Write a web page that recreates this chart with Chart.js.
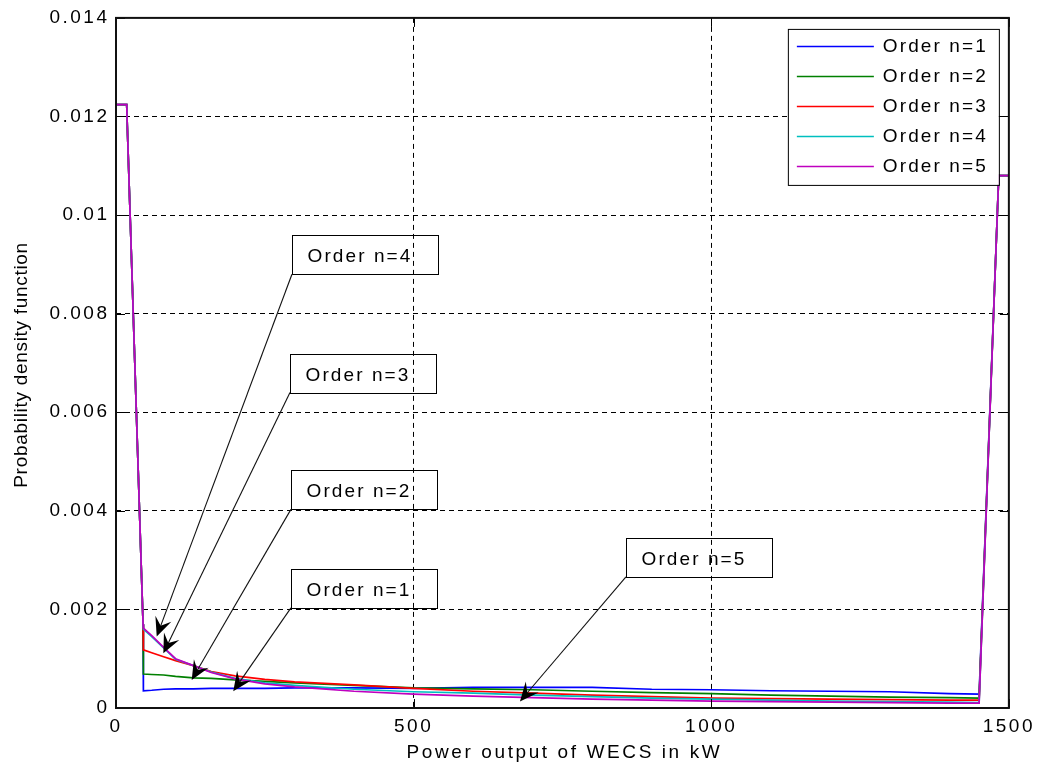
<!DOCTYPE html>
<html>
<head>
<meta charset="utf-8">
<script src="https://cdn.jsdelivr.net/npm/chart.js@4/dist/chart.umd.min.js"></script>
<style>
  html, body { margin: 0; padding: 0; background: #ffffff; }
  #wrap { width: 1037px; height: 767px; }
</style>
</head>
<body>
<div id="wrap"><canvas id="c" width="1037" height="767"></canvas></div>
<script>
// ---------------- data ----------------
const powerKW = [0, 18, 19, 45.5, 46, 60, 80, 100, 130, 160, 200, 250, 300, 400, 500, 600, 700, 800, 900, 1000, 1100, 1200, 1300, 1400, 1450, 1483, 1500];

const pdfOrder1 = [0.01224, 0.01224, 0.0118, 0.0017,
  0.00035, 0.00036, 0.00038, 0.00039, 0.00039, 0.0004, 0.0004, 0.0004, 0.00041, 0.00041, 0.0004,
  0.00042, 0.00042, 0.00042, 0.00038, 0.00037, 0.00035, 0.00034, 0.00033, 0.00029, 0.00028,
  0.0108, 0.0108];
const pdfOrder2 = [0.01224, 0.01224, 0.0118, 0.0017,
  0.00069, 0.00068, 0.00067, 0.00064, 0.00061, 0.0006, 0.00057, 0.00054, 0.00051, 0.00046, 0.00041,
  0.00039, 0.00037, 0.00034, 0.00031, 0.00029, 0.00026, 0.00024, 0.00022, 0.00021, 0.0002,
  0.0108, 0.0108];
const pdfOrder3 = [0.01224, 0.01224, 0.0118, 0.0017,
  0.00118, 0.00112, 0.00104, 0.00096, 0.00086, 0.00074, 0.00065, 0.00058, 0.00053, 0.00047, 0.0004,
  0.00034, 0.0003, 0.00026, 0.00023, 0.0002, 0.00019, 0.00018, 0.00017, 0.00016, 0.00016,
  0.0108, 0.0108];
const pdfOrder4 = [0.01224, 0.01224, 0.0118, 0.0017,
  0.0016, 0.00145, 0.00122, 0.00099, 0.00086, 0.00073, 0.0006, 0.00051, 0.00046, 0.00038, 0.00033,
  0.0003, 0.00026, 0.00023, 0.0002, 0.00018, 0.00016, 0.00014, 0.00013, 0.00012, 0.00011,
  0.0108, 0.0108];
const pdfOrder5 = [0.01224, 0.01224, 0.0118, 0.0017,
  0.00162, 0.00147, 0.00123, 0.001, 0.00086, 0.00072, 0.00059, 0.00049, 0.00043, 0.00034, 0.00028,
  0.00024, 0.00021, 0.00018, 0.00016, 0.00014, 0.00013, 0.00012, 0.00011, 0.0001, 0.0001,
  0.0108, 0.0108];

const seriesLabels = ['Order n=1', 'Order n=2', 'Order n=3', 'Order n=4', 'Order n=5'];
const seriesValues = [pdfOrder1, pdfOrder2, pdfOrder3, pdfOrder4, pdfOrder5];

const xTickValues = [0, 500, 1000, 1500];
const yTickValues = [0, 0.002, 0.004, 0.006, 0.008, 0.01, 0.012, 0.014];

const xAxisTitle = 'Power output of WECS in kW';
const yAxisTitle = 'Probability density function';

// text-arrow annotations: label, arrow tail (box lower-left corner) and arrow head, in data units
const noteLabels = ['Order n=4', 'Order n=3', 'Order n=2', 'Order n=1', 'Order n=5'];
const noteTailKW = [295.6, 292.3, 293.9, 293.9, 856.7];
const noteTailPdf = [0.0088, 0.0064, 0.00403, 0.00203, 0.00266];
const noteHeadKW = [68.4, 79.5, 127.2, 197, 678.6];
const noteHeadPdf = [0.00145, 0.00111, 0.00057, 0.00034, 0.000133];

// ---------------- styles ----------------
const seriesColors = ['rgb(0,0,255)', 'rgb(0,128,0)', 'rgb(255,0,0)', 'rgb(0,191,191)', 'rgb(191,0,191)'];
const FONT = '"Liberation Sans", Arial, sans-serif';

const datasets = seriesLabels.map((lab, i) => ({
  label: lab,
  data: powerKW.map((x, k) => ({ x: x, y: seriesValues[i][k] })),
  borderColor: seriesColors[i],
  backgroundColor: seriesColors[i],
  borderWidth: 1.7,
  pointRadius: 0,
  tension: 0,
  fill: false,
  order: seriesLabels.length - i   // last series drawn on top
}));

const decorPlugin = {
  id: 'decor',
  beforeDraw(chart) {
    const ctx = chart.ctx;
    ctx.save();
    ctx.fillStyle = '#ffffff';
    ctx.fillRect(0, 0, chart.width, chart.height);
    ctx.restore();
    ctx.letterSpacing = '2.5px';
  },
  afterDraw(chart) {
    const ctx = chart.ctx;
    const ca = chart.chartArea;
    const xs = chart.scales.x, ys = chart.scales.y;

    // inward tick marks
    ctx.save();
    ctx.strokeStyle = '#000';
    ctx.lineWidth = 1;
    const tl = 9;
    xTickValues.forEach(v => {
      const px = Math.round(xs.getPixelForValue(v)) + 0.5;
      ctx.beginPath();
      ctx.moveTo(px, ca.bottom); ctx.lineTo(px, ca.bottom - tl);
      ctx.moveTo(px, ca.top); ctx.lineTo(px, ca.top + tl);
      ctx.stroke();
    });
    yTickValues.forEach(v => {
      const py = Math.round(ys.getPixelForValue(v)) + 0.5;
      ctx.beginPath();
      ctx.moveTo(ca.left, py); ctx.lineTo(ca.left + tl, py);
      ctx.moveTo(ca.right, py); ctx.lineTo(ca.right - tl, py);
      ctx.stroke();
    });
    // frame
    ctx.lineWidth = 2;
    ctx.strokeStyle = '#111';
    ctx.strokeRect(ca.left, ca.top, ca.right - ca.left, ca.bottom - ca.top);
    ctx.restore();

    // annotations (transparent boxes with arrows)
    ctx.save();
    ctx.font = '19px ' + FONT;
    ctx.letterSpacing = '2.1px';
    noteLabels.forEach((lab, i) => {
      const tx = xs.getPixelForValue(noteTailKW[i]);
      const ty = ys.getPixelForValue(noteTailPdf[i]);
      const hx = xs.getPixelForValue(noteHeadKW[i]);
      const hy = ys.getPixelForValue(noteHeadPdf[i]);
      const bw = 146, bh = 39;
      const bl = Math.round(tx) + 0.5, bb = Math.round(ty) + 0.5;
      ctx.strokeStyle = '#000';
      ctx.lineWidth = 1;
      ctx.strokeRect(bl, bb - bh, bw, bh);
      ctx.fillStyle = '#000';
      ctx.textAlign = 'left';
      ctx.textBaseline = 'middle';
      ctx.fillText(lab, bl + 15, bb - bh / 2 + 2);
      // arrow
      const dx = hx - tx, dy = hy - ty;
      const len = Math.hypot(dx, dy);
      const ux = dx / len, uy = dy / len;
      const px = -uy, py = ux;
      const L = 19, W = 8.5;
      const backX = hx - ux * L, backY = hy - uy * L;
      const notchX = hx - ux * L * 0.6, notchY = hy - uy * L * 0.6;
      ctx.beginPath();
      ctx.moveTo(tx, ty);
      ctx.lineTo(notchX, notchY);
      ctx.lineWidth = 1.1;
      ctx.strokeStyle = '#111';
      ctx.stroke();
      ctx.beginPath();
      ctx.moveTo(hx, hy);
      ctx.lineTo(backX + px * W, backY + py * W);
      ctx.lineTo(notchX, notchY);
      ctx.lineTo(backX - px * W, backY - py * W);
      ctx.closePath();
      ctx.fillStyle = '#000';
      ctx.fill();
    });
    ctx.restore();

    // legend (opaque box, top-right inside axes)
    ctx.save();
    const lgRight = ca.right - 10, lgTop = ca.top + 11;
    const lgW = 211, lgH = 156;
    const lgLeft = lgRight - lgW;
    ctx.fillStyle = '#fff';
    ctx.fillRect(lgLeft, lgTop, lgW, lgH);
    ctx.strokeStyle = '#000';
    ctx.lineWidth = 1;
    ctx.strokeRect(lgLeft + 0.5, lgTop + 0.5, lgW, lgH);
    ctx.font = '19px ' + FONT;
    ctx.letterSpacing = '2.1px';
    ctx.textAlign = 'left';
    ctx.textBaseline = 'middle';
    seriesLabels.forEach((lab, i) => {
      const ry = lgTop + 17 + i * 29.9;
      ctx.strokeStyle = seriesColors[i];
      ctx.lineWidth = 1.6;
      ctx.beginPath();
      ctx.moveTo(lgLeft + 9, Math.round(ry) + 0.5);
      ctx.lineTo(lgLeft + 86, Math.round(ry) + 0.5);
      ctx.stroke();
      ctx.fillStyle = '#000';
      ctx.fillText(lab, lgLeft + 95, ry + 1);
    });
    ctx.restore();

    // axis titles
    ctx.save();
    ctx.font = '19px ' + FONT;
    ctx.fillStyle = '#000';
    ctx.textAlign = 'center';
    ctx.textBaseline = 'middle';
    ctx.letterSpacing = '2.6px';
    ctx.fillText(xAxisTitle, (ca.left + ca.right) / 2 + 2, 753);
    ctx.letterSpacing = '0.7px';
    ctx.translate(22, (ca.top + ca.bottom) / 2 + 2);
    ctx.rotate(-Math.PI / 2);
    ctx.fillText(yAxisTitle, 0, 0);
    ctx.restore();

    ctx.letterSpacing = '0px';
  }
};

const fmt = v => {
  if (Math.abs(v) < 1e-12) return '0';
  if (Math.abs(v - Math.round(v)) < 1e-9 && v >= 1) return String(Math.round(v));
  return (Math.round(v * 1000) / 1000).toFixed(3).replace(/0+$/, '').replace(/\.$/, '');
};

new Chart(document.getElementById('c'), {
  type: 'line',
  data: { datasets: datasets },
  plugins: [decorPlugin],
  options: {
    responsive: false,
    animation: false,
    devicePixelRatio: 1,
    layout: { padding: { top: 16, right: 28, left: 0, bottom: 0 } },
    plugins: { legend: { display: false }, tooltip: { enabled: false } },
    scales: {
      x: {
        type: 'linear',
        min: 0, max: 1500,
        afterFit: s => { s.height = 59; },
        afterBuildTicks: s => { s.ticks = xTickValues.map(v => ({ value: v })); },
        ticks: {
          autoSkip: false, maxRotation: 0, minRotation: 0,
          padding: 7, color: '#000',
          font: { family: FONT, size: 19 },
          callback: v => fmt(v)
        },
        grid: { color: '#000', lineWidth: 1, drawTicks: false },
        border: { display: false, dash: [5, 4] }
      },
      y: {
        type: 'linear',
        min: 0, max: 0.014,
        afterFit: s => { s.width = 116; },
        afterBuildTicks: s => { s.ticks = yTickValues.map(v => ({ value: v })); },
        ticks: {
          autoSkip: false,
          padding: 6.5, color: '#000',
          font: { family: FONT, size: 19 },
          callback: v => fmt(v)
        },
        grid: { color: '#000', lineWidth: 1, drawTicks: false },
        border: { display: false, dash: [5, 4] }
      }
    }
  }
});
</script>
</body>
</html>
